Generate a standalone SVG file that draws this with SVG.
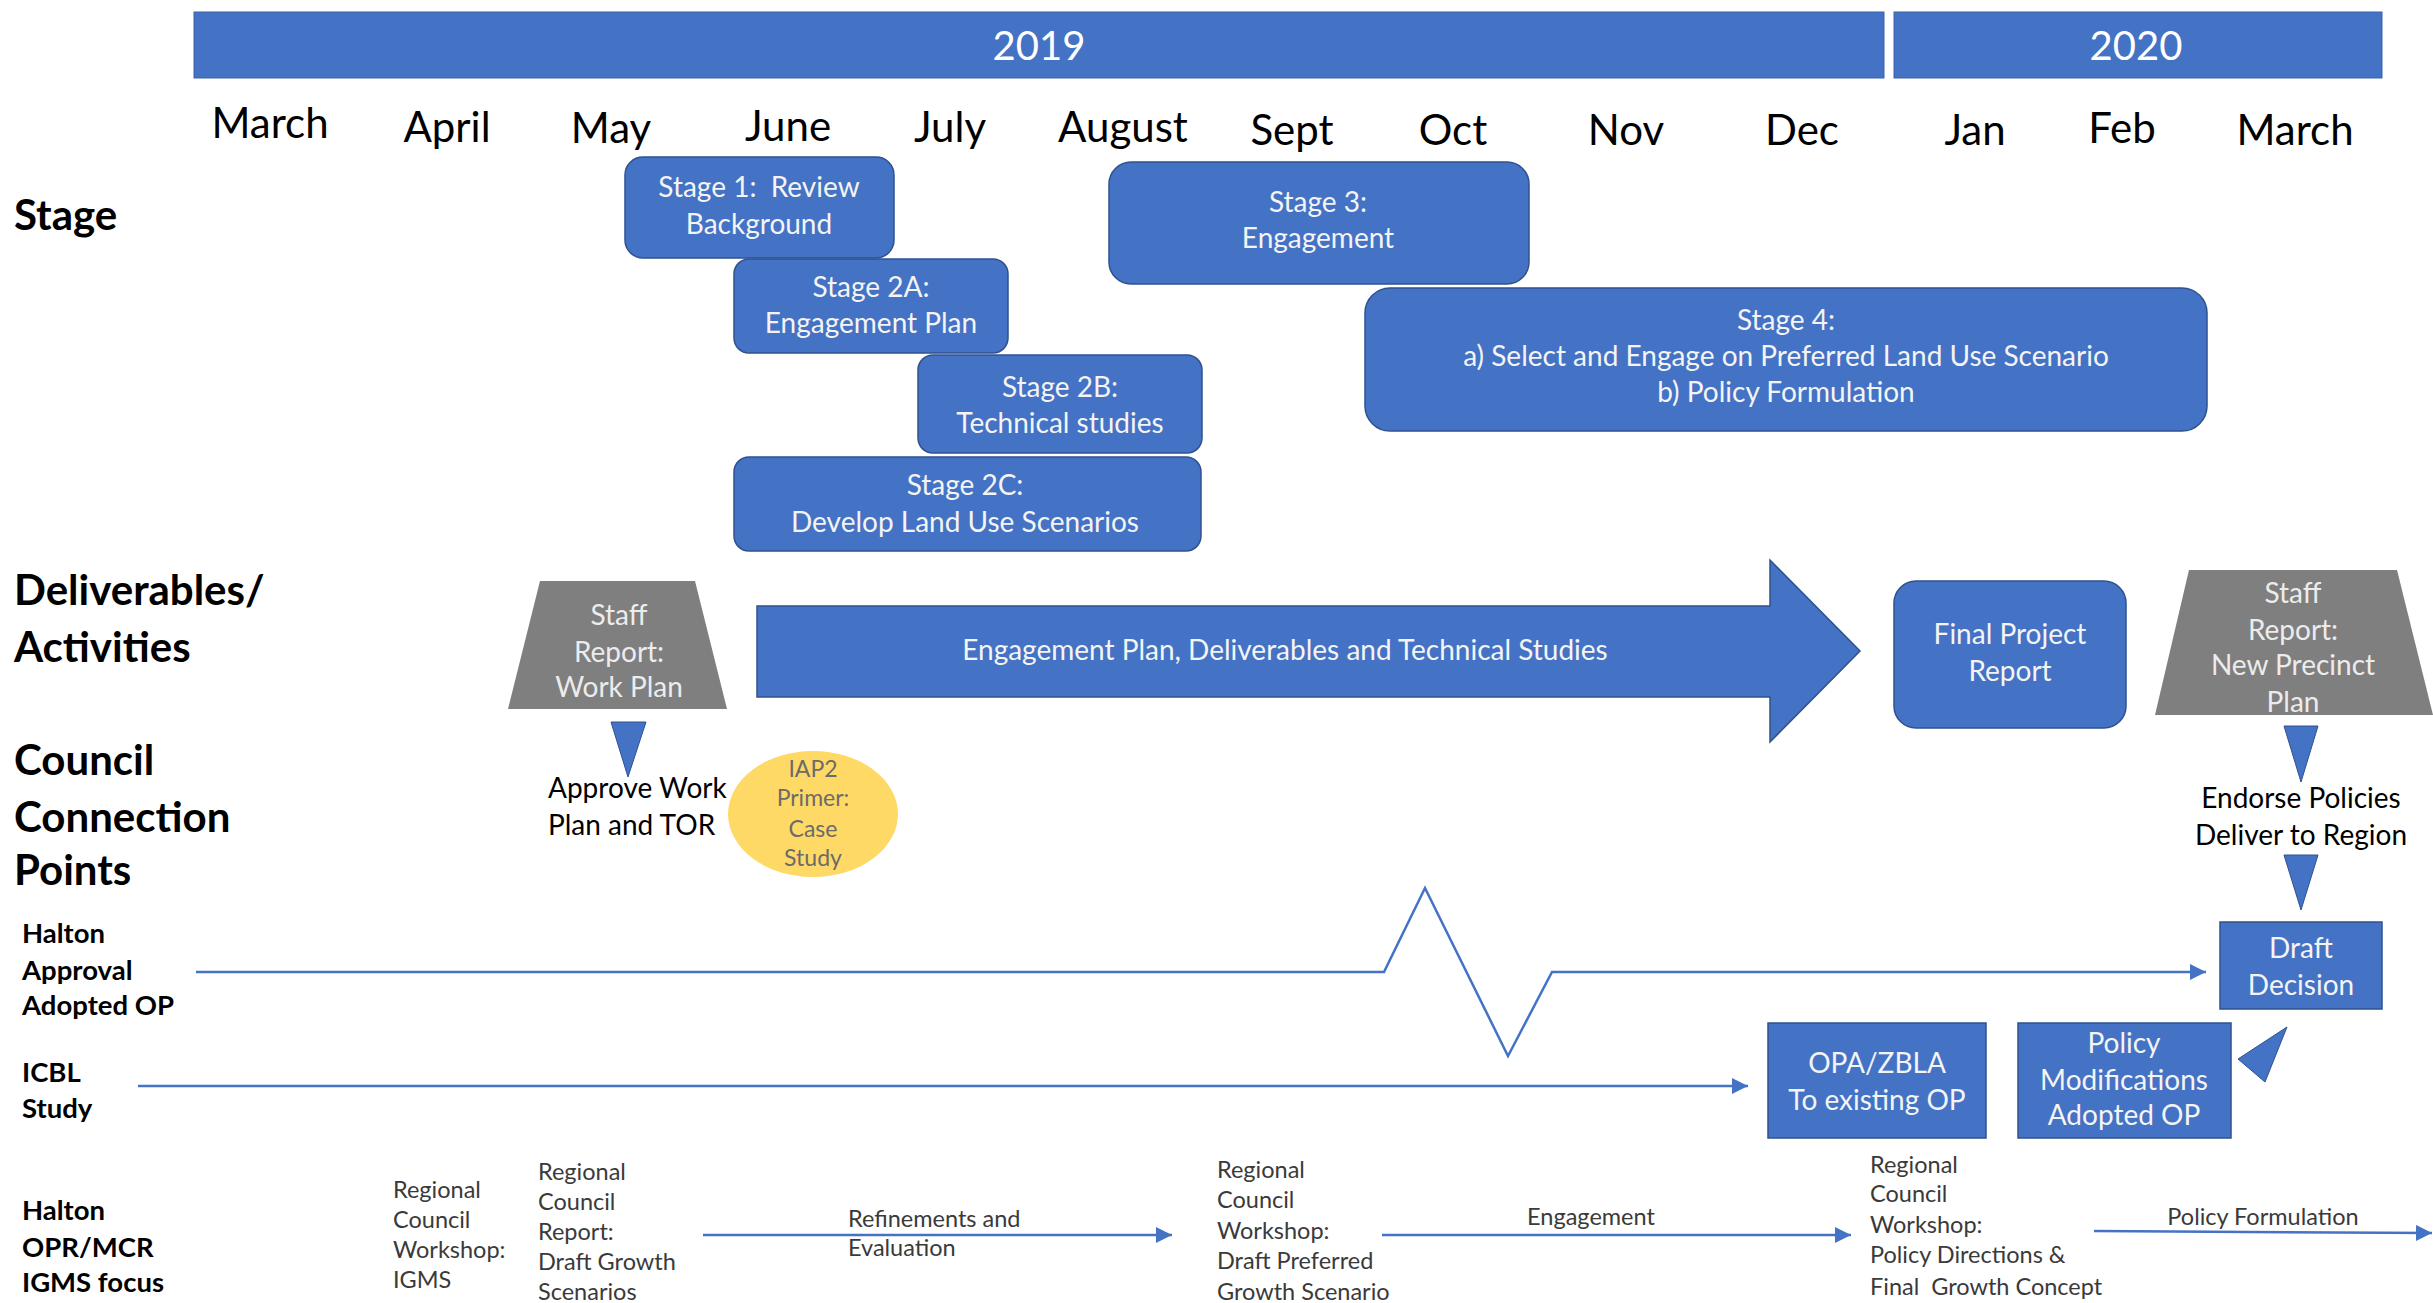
<svg xmlns="http://www.w3.org/2000/svg" width="2433" height="1303" viewBox="0 0 2433 1303">
<style>
text{font-family:Lato,"Liberation Sans",sans-serif}
.yr{font-size:40px;fill:#fff;text-anchor:middle}
.mo{font-size:42px;fill:#000;text-anchor:middle}
.hd{font-size:42px;font-weight:bold;fill:#000}
.sl{font-size:27.5px;font-weight:bold;fill:#000}
.bx{font-size:28px;fill:#f4f4f4;text-anchor:middle}
.gy{font-size:28px;fill:#ececec;text-anchor:middle}
.bk{font-size:28px;fill:#000}
.sm{font-size:23.5px;fill:#3a3a3a}
.ia{font-size:23px;fill:#6b6b6b;text-anchor:middle}
.blue{fill:#4472c4;stroke:#2f528f;stroke-width:1.5}
.bar{fill:#4472c4;stroke:#3a62a8;stroke-width:1}
.gray{fill:#7f7f7f}
.tri{fill:#4472c4;stroke:#2f528f;stroke-width:1}
.ln{fill:none;stroke:#4472c4;stroke-width:2.5}
</style>
<defs>
<marker id="ah" markerUnits="userSpaceOnUse" markerWidth="18" markerHeight="16" refX="16" refY="8" orient="auto">
<path d="M0,0 L16,8 L0,16 z" fill="#4472c4"/>
</marker>
</defs>

<g id="year-2019"><rect class="bar" x="194" y="12" width="1690" height="66"/><text class="yr" x="1039" y="60">2019</text></g>
<g id="year-2020"><rect class="bar" x="1894" y="12" width="488" height="66"/><text class="yr" x="2136" y="60">2020</text></g>

<g id="months">
<text class="mo" x="270" y="138">March</text>
<text class="mo" x="447" y="142">April</text>
<text class="mo" x="611" y="143">May</text>
<text class="mo" x="788" y="141">June</text>
<text class="mo" x="950" y="142">July</text>
<text class="mo" x="1123" y="142">August</text>
<text class="mo" x="1292" y="145">Sept</text>
<text class="mo" x="1453" y="145">Oct</text>
<text class="mo" x="1626" y="145">Nov</text>
<text class="mo" x="1802" y="145">Dec</text>
<text class="mo" x="1975" y="145">Jan</text>
<text class="mo" x="2122" y="143">Feb</text>
<text class="mo" x="2295" y="145">March</text>
</g>

<g id="row-labels">
<text class="hd" x="14" y="230">Stage</text>
<text class="hd" x="14" y="605">Deliverables/</text>
<text class="hd" x="14" y="662">Activities</text>
<text class="hd" x="14" y="775">Council</text>
<text class="hd" x="14" y="832">Connection</text>
<text class="hd" x="14" y="885">Points</text>
<text class="sl" x="22" y="943">Halton</text>
<text class="sl" x="22" y="980">Approval</text>
<text class="sl" x="22" y="1015">Adopted OP</text>
<text class="sl" x="22" y="1082">ICBL</text>
<text class="sl" x="22" y="1118">Study</text>
<text class="sl" x="22" y="1220">Halton</text>
<text class="sl" x="22" y="1257">OPR/MCR</text>
<text class="sl" x="22" y="1292">IGMS focus</text>
</g>

<g id="stage1"><rect class="blue" x="625" y="157" width="269" height="101" rx="18"/><text class="bx" x="759" y="197" xml:space="preserve">Stage 1:  Review</text><text class="bx" x="759" y="234">Background</text></g>
<g id="stage2a"><rect class="blue" x="734" y="259" width="274" height="94" rx="15"/><text class="bx" x="871" y="297">Stage 2A:</text><text class="bx" x="871" y="333">Engagement Plan</text></g>
<g id="stage2b"><rect class="blue" x="918" y="355" width="284" height="98" rx="15"/><text class="bx" x="1060" y="397">Stage 2B:</text><text class="bx" x="1060" y="433">Technical studies</text></g>
<g id="stage2c"><rect class="blue" x="734" y="457" width="467" height="94" rx="15"/><text class="bx" x="965" y="495">Stage 2C:</text><text class="bx" x="965" y="532">Develop Land Use Scenarios</text></g>
<g id="stage3"><rect class="blue" x="1109" y="162" width="420" height="122" rx="22"/><text class="bx" x="1318" y="212">Stage 3:</text><text class="bx" x="1318" y="248">Engagement</text></g>
<g id="stage4"><rect class="blue" x="1365" y="288" width="842" height="143" rx="25"/><text class="bx" x="1786" y="330">Stage 4:</text><text class="bx" x="1786" y="366">a) Select and Engage on Preferred Land Use Scenario</text><text class="bx" x="1786" y="402">b) Policy Formulation</text></g>

<g id="staff-report-work-plan"><polygon class="gray" points="540,581 695,581 727,709 508,709"/><text class="gy" x="619" y="625">Staff</text><text class="gy" x="619" y="662">Report:</text><text class="gy" x="619" y="697">Work Plan</text></g>
<g id="deliverables-arrow"><polygon class="blue" points="757,606 1770,606 1770,560 1860,651 1770,742 1770,697 757,697"/><text class="bx" x="1285" y="660">Engagement Plan, Deliverables and Technical Studies</text></g>
<g id="final-project-report"><rect class="blue" x="1894" y="581" width="232" height="147" rx="22"/><text class="bx" x="2010" y="644">Final Project</text><text class="bx" x="2010" y="681">Report</text></g>
<g id="staff-report-precinct"><polygon class="gray" points="2189,570 2397,570 2433,715 2155,715"/><text class="gy" x="2293" y="603">Staff</text><text class="gy" x="2293" y="640">Report:</text><text class="gy" x="2293" y="675">New Precinct</text><text class="gy" x="2293" y="712">Plan</text></g>

<g id="approve-work-plan"><polygon class="tri" points="611,722 646,722 628,777"/><text class="bk" x="548" y="798">Approve Work</text><text class="bk" x="548" y="835">Plan and TOR</text></g>
<g id="iap2"><ellipse cx="813" cy="814" rx="85" ry="63" fill="#ffd966"/><text class="ia" x="813" y="777">IAP2</text><text class="ia" x="813" y="806">Primer:</text><text class="ia" x="813" y="837">Case</text><text class="ia" x="813" y="866">Study</text></g>
<g id="endorse-policies"><polygon class="tri" points="2284,726 2318,726 2301,782"/><text class="bk" x="2301" y="808" text-anchor="middle">Endorse Policies</text><text class="bk" x="2301" y="845" text-anchor="middle">Deliver to Region</text><polygon class="tri" points="2284,855 2318,855 2301,910"/></g>

<g id="draft-decision"><rect class="blue" x="2220" y="922" width="162" height="87"/><text class="bx" x="2301" y="958">Draft</text><text class="bx" x="2301" y="995">Decision</text></g>
<g id="opa-zbla"><rect class="blue" x="1768" y="1023" width="218" height="115"/><text class="bx" x="1877" y="1073">OPA/ZBLA</text><text class="bx" x="1877" y="1110">To existing OP</text></g>
<g id="policy-modifications"><rect class="blue" x="2018" y="1023" width="213" height="115"/><text class="bx" x="2124" y="1053">Policy</text><text class="bx" x="2124" y="1090">Modifications</text><text class="bx" x="2124" y="1125">Adopted OP</text></g>
<g id="pointer-left"><polygon class="tri" points="2238,1059 2287,1027 2265,1082"/></g>

<g id="igms-workshop"><text class="sm" x="393" y="1198">Regional</text><text class="sm" x="393" y="1228">Council</text><text class="sm" x="393" y="1258">Workshop:</text><text class="sm" x="393" y="1288">IGMS</text></g>
<g id="growth-scenarios-report"><text class="sm" x="538" y="1180">Regional</text><text class="sm" x="538" y="1210">Council</text><text class="sm" x="538" y="1240">Report:</text><text class="sm" x="538" y="1270">Draft Growth</text><text class="sm" x="538" y="1300">Scenarios</text></g>
<g id="preferred-scenario-workshop"><text class="sm" x="1217" y="1178">Regional</text><text class="sm" x="1217" y="1208">Council</text><text class="sm" x="1217" y="1239">Workshop:</text><text class="sm" x="1217" y="1269">Draft Preferred</text><text class="sm" x="1217" y="1300">Growth Scenario</text></g>
<g id="policy-directions-workshop"><text class="sm" x="1870" y="1173">Regional</text><text class="sm" x="1870" y="1202">Council</text><text class="sm" x="1870" y="1233">Workshop:</text><text class="sm" x="1870" y="1263">Policy Directions &amp;</text><text class="sm" x="1870" y="1295" xml:space="preserve">Final  Growth Concept</text></g>

<g id="connectors">
<polyline class="ln" points="196,972 1384,972 1425,888 1508,1056 1552,972 2206,972" marker-end="url(#ah)"/>
<line class="ln" x1="138" y1="1086" x2="1748" y2="1086" marker-end="url(#ah)"/>
<line class="ln" x1="703" y1="1235" x2="1172" y2="1235" marker-end="url(#ah)"/>
<line class="ln" x1="1382" y1="1235" x2="1851" y2="1235" marker-end="url(#ah)"/>
<line class="ln" x1="2094" y1="1231" x2="2432" y2="1233" marker-end="url(#ah)"/>
<text class="sm" x="848" y="1227">Refinements and</text>
<text class="sm" x="848" y="1256">Evaluation</text>
<text class="sm" x="1591" y="1225" text-anchor="middle">Engagement</text>
<text class="sm" x="2263" y="1225" text-anchor="middle">Policy Formulation</text>
</g>
</svg>
